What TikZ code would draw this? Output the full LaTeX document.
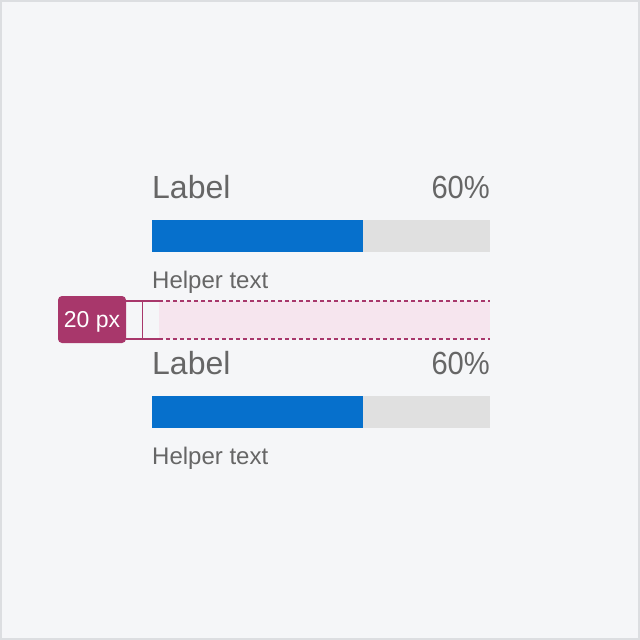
\documentclass[tikz,border=0pt]{standalone}
\usepackage{fontspec}
\usepackage{graphicx}
\setmainfont{Liberation Sans}
\definecolor{bgc}{HTML}{F5F6F8}
\definecolor{bordc}{HTML}{DCDEE1}
\definecolor{txt}{HTML}{666666}
\definecolor{barblue}{HTML}{0670CC}
\definecolor{track}{HTML}{E0E0E0}
\definecolor{pinkband}{HTML}{F6E5EE}
\definecolor{mag}{HTML}{A8376B}
\begin{document}
\begin{tikzpicture}[x=1pt,y=-1pt,
  lbl/.style={inner sep=0pt,text=txt,font=\fontsize{32}{36}\selectfont},
  helper/.style={inner sep=0pt,text=txt,font=\fontsize{24}{26}\selectfont},
  spec/.style={draw=mag,line width=1.5pt},
  specdash/.style={spec,dash pattern=on 4pt off 3pt}]
\useasboundingbox (0,0) rectangle (640,640);
\fill[bgc] (0,0) rectangle (640,640);
\draw[bordc,line width=2pt] (1,1) rectangle (639,639);
% spacing band
\fill[pinkband] (159,301) rectangle (490,339);
\node[fill=mag,rounded corners=4pt,minimum width=68pt,minimum height=47pt,inner sep=0pt] (badge) at (92,319.5) {};
\node[anchor=base,inner sep=0pt,text=white,font=\fontsize{23}{26}\selectfont] (badgetxt) at (92,327.5) {20 px};
\coordinate (t1) at (159,301);
\coordinate (t2) at (490,301);
\coordinate (b1) at (159,339);
\coordinate (b2) at (490,339);
\draw[spec] (badge.east |- t1) -- (t1);
\draw[spec] (badge.east |- b1) -- (b1);
\draw[specdash] (t1) -- (t2);
\draw[specdash] (b1) -- (b2);
\coordinate (vt) at (142.5,301);
\coordinate (vb) at (142.5,339);
\draw[draw=mag,line width=1.4pt] (vt) -- (vb);
% group 1
\node[lbl,anchor=base west] (l1) at (152,198) {Label};
\node[lbl,anchor=base east] (p1) at (490,198) {\scalebox{0.91}[1]{60\%}};
\fill[track] (152,220) rectangle (490,252);
\fill[barblue] (152,220) rectangle (363,252);
\node[helper,anchor=base west] (h1) at (152,288) {Helper text};
% group 2
\node[lbl,anchor=base west] (l2) at (152,374) {Label};
\node[lbl,anchor=base east] (p2) at (490,374) {\scalebox{0.91}[1]{60\%}};
\fill[track] (152,396) rectangle (490,428);
\fill[barblue] (152,396) rectangle (363,428);
\node[helper,anchor=base west] (h2) at (152,464) {Helper text};
\end{tikzpicture}
\end{document}
